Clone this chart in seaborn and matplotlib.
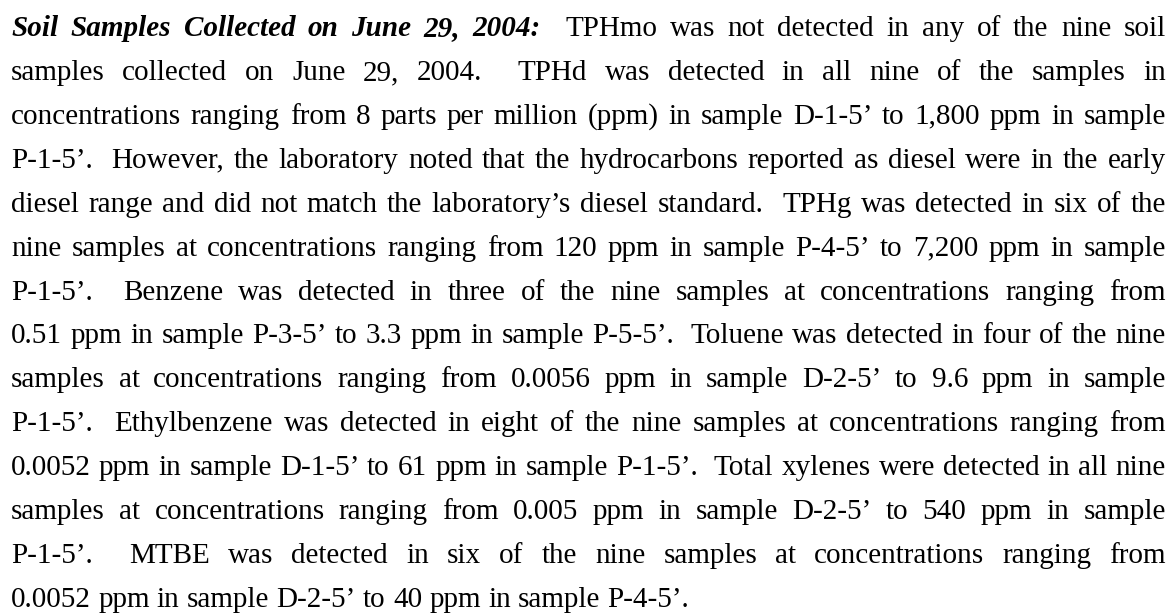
import re

import matplotlib

matplotlib.use("Agg")
import matplotlib.pyplot as plt
import seaborn as sns

# %% Text of the scanned paragraph, line by line as in the page
heading = "Soil Samples Collected on June 29, 2004:"
lines = [
    "Soil Samples Collected on June 29, 2004:  TPHmo was not detected in any of the nine soil",
    "samples collected on June 29, 2004.  TPHd was detected in all nine of the samples in",
    "concentrations ranging from 8 parts per million (ppm) in sample D-1-5’ to 1,800 ppm in sample",
    "P-1-5’.  However, the laboratory noted that the hydrocarbons reported as diesel were in the early",
    "diesel range and did not match the laboratory’s diesel standard.  TPHg was detected in six of the",
    "nine samples at concentrations ranging from 120 ppm in sample P-4-5’ to 7,200 ppm in sample",
    "P-1-5’.  Benzene was detected in three of the nine samples at concentrations ranging from",
    "0.51 ppm in sample P-3-5’ to 3.3 ppm in sample P-5-5’.  Toluene was detected in four of the nine",
    "samples at concentrations ranging from 0.0056 ppm in sample D-2-5’ to 9.6 ppm in sample",
    "P-1-5’.  Ethylbenzene was detected in eight of the nine samples at concentrations ranging from",
    "0.0052 ppm in sample D-1-5’ to 61 ppm in sample P-1-5’.  Total xylenes were detected in all nine",
    "samples at concentrations ranging from 0.005 ppm in sample D-2-5’ to 540 ppm in sample",
    "P-1-5’.  MTBE was detected in six of the nine samples at concentrations ranging from",
    "0.0052 ppm in sample D-2-5’ to 40 ppm in sample P-4-5’.",
]

# %% Page geometry (pixels)
W, H = 1173, 614
left, right = 11, 1166
first_base, last_base = 36, 607
font_size = 21

sns.set_theme(style="white")
plt.rcParams["font.family"] = ["Liberation Serif", "DejaVu Serif"]
ink = "#000000"

fig = plt.figure(figsize=(W / 100, H / 100), dpi=100, facecolor="white")
ax = fig.add_axes([0, 0, 1, 1])
ax.set_xlim(0, W)
ax.set_ylim(H, 0)
ax.axis("off")
renderer = fig.canvas.get_renderer()


def text_width(s, size, **kw):
    t = ax.text(0, 0, s, fontsize=size, **kw)
    w = t.get_window_extent(renderer).width
    t.remove()
    return w


space = text_width("a a", font_size) - text_width("aa", font_size)
n_head = len(heading.split(" "))
step = (last_base - first_base) / (len(lines) - 1)

for i, line in enumerate(lines):
    parts = re.split(r"( +)", line)
    words = parts[0::2]
    gaps = [len(g) for g in parts[1::2]]
    styles = []
    for j in range(len(words)):
        if i == 0 and j < n_head:
            styles.append(dict(fontweight="bold", fontstyle="italic"))
        else:
            styles.append({})
    widths = [text_width(w, font_size, **st) for w, st in zip(words, styles)]
    natural = sum(widths) + space * sum(gaps)
    extra = 0
    if i < len(lines) - 1 and sum(gaps) > 0:
        extra = (right - left - natural) / sum(gaps)
    x = left
    y = first_base + i * step
    for j, (w, st) in enumerate(zip(words, styles)):
        ax.text(x, y, w, fontsize=font_size, va="baseline", ha="left", color=ink, **st)
        x += widths[j]
        if j < len(gaps):
            x += gaps[j] * (space + extra)

fig.savefig("out.png", dpi=100, facecolor="white")
